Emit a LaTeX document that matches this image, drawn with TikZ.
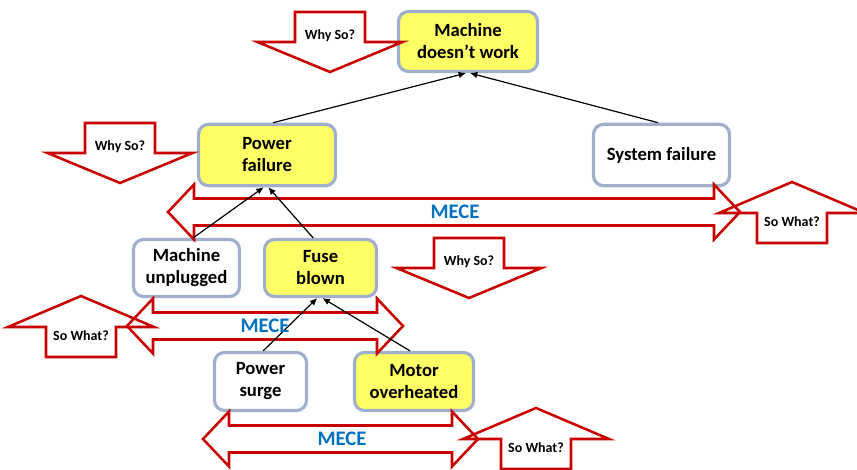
\documentclass[tikz,border=0pt]{standalone}
\usepackage{fontspec}
\setmainfont{Carlito}
\usetikzlibrary{arrows.meta}

\definecolor{boxline}{RGB}{160,176,204}
\definecolor{boxyellow}{RGB}{255,255,102}
\definecolor{redline}{RGB}{200,0,0}
\definecolor{meceblue}{RGB}{0,112,192}

\tikzset{
  causebox/.style={draw=boxline, line width=2.4pt, rounded corners=7.5pt, align=center, inner sep=0pt,
    font=\bfseries\fontsize{14}{16.5}\selectfont},
  hotbox/.style={causebox, fill=boxyellow},
  link/.style={line width=0.9pt, -{Latex[length=5.5pt,width=5pt]}},
  redshape/.style={draw=redline, line width=1.9pt, line join=miter},
  shapetext/.style={inner sep=0.75pt, font=\bfseries\fontsize{10.5}{12}\selectfont},
  mecetext/.style={inner sep=0.75pt, text=meceblue, font=\bfseries\fontsize{15.5}{18}\selectfont}
}

\begin{document}
\begin{tikzpicture}[x=0.75pt,y=0.75pt,yscale=-1,xscale=1]
    \useasboundingbox (0,0) rectangle (857,470);

    %Shape: Rounded Rect
    \node [hotbox, minimum width=104.25pt, minimum height=45pt] (mdw) at (468,41.5) {Machine\\doesn’t work};
    \node [hotbox, minimum width=102.75pt, minimum height=46pt] (pf) at (267,155) {Power\\failure};
    \node [causebox, minimum width=102pt, minimum height=46pt] (sf) at (661.5,155) {System failure};
    \node [causebox, minimum width=79.5pt, minimum height=42.75pt] (mu) at (186.5,268) {Machine\\unplugged};
    \node [hotbox, minimum width=84pt, minimum height=42.75pt] (fb) at (320.5,268) {Fuse\\blown};
    \node [causebox, minimum width=69pt, minimum height=43.5pt] (ps) at (260.5,381.5) {Power\\surge};
    \node [hotbox, minimum width=89.25pt, minimum height=43.5pt] (mo) at (414,381.5) {Motor\\overheated};

    %Shape: Down Arrow (Why So?)
    \draw [redshape] (295,12) -- ++(70,0) -- ++(0,30) -- ++(37.5,0) -- ++(-72.5,30) -- ++(-72.5,-30) -- ++(37.5,0) -- cycle ;
    \draw [redshape] (85,123) -- ++(70,0) -- ++(0,30) -- ++(37.5,0) -- ++(-72.5,30) -- ++(-72.5,-30) -- ++(37.5,0) -- cycle ;
    \draw [redshape] (434,238) -- ++(70,0) -- ++(0,30) -- ++(37.5,0) -- ++(-72.5,30) -- ++(-72.5,-30) -- ++(37.5,0) -- cycle ;
    %Shape: Up Arrow (So What?)
    \draw [redshape] (792,182) -- ++(73,31) -- ++(-38,0) -- ++(0,30) -- ++(-70,0) -- ++(0,-30) -- ++(-38,0) -- cycle ;
    \draw [redshape] (81,296) -- ++(73,31) -- ++(-38,0) -- ++(0,30) -- ++(-70,0) -- ++(0,-30) -- ++(-38,0) -- cycle ;
    \draw [redshape] (536,408) -- ++(73,31) -- ++(-38,0) -- ++(0,30) -- ++(-70,0) -- ++(0,-30) -- ++(-38,0) -- cycle ;
    %Shape: Left-Right Arrow
    \draw [redshape] (168,212) -- (194,184.5) -- (194,198.5) -- (714,198.5) -- (714,184.5) -- (740,212) -- (714,239.5) -- (714,225.5) -- (194,225.5) -- (194,239.5) -- cycle ;
    \draw [redshape] (127,326) -- (153,298.5) -- (153,312.5) -- (377,312.5) -- (377,298.5) -- (403,326) -- (377,353.5) -- (377,339.5) -- (153,339.5) -- (153,353.5) -- cycle ;
    \draw [redshape] (203,439) -- (229,411.5) -- (229,425.5) -- (452,425.5) -- (452,411.5) -- (478,439) -- (452,466.5) -- (452,452.5) -- (229,452.5) -- (229,466.5) -- cycle ;

    %Straight Lines
    \draw [link] ([xshift=4.5pt]pf.north) -- ([xshift=-1.5pt]mdw.south) ;
    \draw [link] ([xshift=-2.5pt]sf.north) -- ([xshift=1.5pt]mdw.south) ;
    \draw [link] ([xshift=5pt]mu.north) -- ([xshift=-2.5pt]pf.south) ;
    \draw [link] ([xshift=-5.5pt]fb.north) -- ([xshift=1pt]pf.south) ;
    \draw [link] ([xshift=2pt]ps.north) -- ([xshift=-2.5pt]fb.south) ;
    \draw [link] ([xshift=-3pt]mo.north) -- ([xshift=1.5pt]fb.south) ;

    % Text Node
    \node [shapetext] (whysoA) at (330,36) {Why So?};
    % Text Node
    \node [shapetext] (whysoB) at (120,147) {Why So?};
    % Text Node
    \node [shapetext] (whysoC) at (469,262) {Why So?};
    % Text Node
    \node [shapetext] (sowhatA) at (792,222) {So What?};
    % Text Node
    \node [shapetext] (sowhatB) at (81,336) {So What?};
    % Text Node
    \node [shapetext] (sowhatC) at (536,448) {So What?};
    % Text Node
    \node [mecetext] (meceA) at (455,212) {MECE};
    % Text Node
    \node [mecetext] (meceB) at (265,326) {MECE};
    % Text Node
    \node [mecetext] (meceC) at (342,439) {MECE};

\end{tikzpicture}
\end{document}
